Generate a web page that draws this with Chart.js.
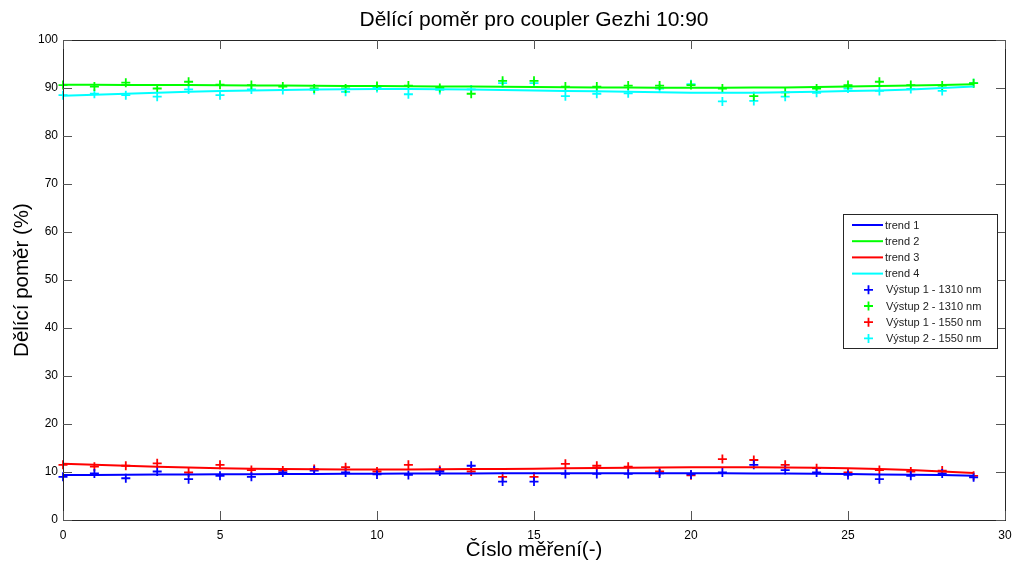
<!DOCTYPE html>
<html>
<head>
<meta charset="utf-8">
<script src="https://cdn.jsdelivr.net/npm/chart.js@4"></script>
<style>
html,body{margin:0;padding:0;background:#fff;}
#wrap{width:1013px;height:565px;position:relative;}
</style>
</head>
<body>
<div id="wrap"><canvas id="c" width="1013" height="565"></canvas></div>
<script>
const titleText = 'Dělící poměr pro coupler Gezhi 10:90';
const xTitle = 'Číslo měření(-)';
const yTitle = 'Dělící poměr (%)';
const measurements = [0,1,2,3,4,5,6,7,8,9,10,11,12,13,14,15,16,17,18,19,20,21,22,23,24,25,26,27,28,29];
const out1_1310 = [9.0,9.7,8.7,10.1,8.5,9.2,9.0,9.9,10.3,9.9,9.5,9.4,10.1,11.3,8.0,8.0,9.6,9.6,9.6,9.7,9.5,9.9,11.5,10.4,9.9,9.4,8.5,9.2,9.7,8.9];
const out2_1310 = [90.6,90.3,91.1,89.9,91.3,90.7,90.6,90.3,89.9,89.9,90.4,90.5,90.0,88.8,91.5,91.5,90.3,90.3,90.5,90.5,90.6,89.9,88.3,89.1,89.9,90.6,91.3,90.6,90.5,91.0];
const out1_1550 = [11.5,11.1,11.3,11.8,9.9,11.5,10.4,10.3,10.6,11.0,10.1,11.5,10.4,10.1,9.0,9.0,11.7,11.3,11.1,10.1,9.3,12.7,12.5,11.5,10.8,9.9,10.4,10.1,10.3,9.2];
const out2_1550 = [88.5,88.8,88.5,88.2,89.7,88.5,89.7,89.6,89.6,89.2,90.0,88.7,89.6,89.7,91.0,91.0,88.3,88.8,88.9,89.9,90.8,87.2,87.3,88.2,89.0,89.9,89.4,89.8,89.4,91.0];
const trend1 = [9.4,9.4,9.45,9.5,9.5,9.55,9.55,9.6,9.6,9.65,9.65,9.7,9.7,9.7,9.75,9.75,9.75,9.75,9.75,9.75,9.75,9.75,9.7,9.7,9.65,9.6,9.5,9.45,9.35,9.2];
const trend2 = [90.7,90.7,90.65,90.6,90.6,90.55,90.5,90.5,90.45,90.4,90.4,90.35,90.3,90.3,90.25,90.2,90.15,90.1,90.1,90.05,90.05,90.05,90.1,90.1,90.2,90.3,90.4,90.5,90.6,90.8];
const trend3 = [11.7,11.5,11.3,11.1,10.95,10.8,10.7,10.6,10.55,10.5,10.5,10.5,10.55,10.6,10.65,10.7,10.8,10.85,10.9,10.95,11.0,11.0,11.0,10.95,10.9,10.8,10.6,10.4,10.1,9.8];
const trend4 = [88.4,88.6,88.8,89.0,89.2,89.35,89.5,89.6,89.7,89.75,89.8,89.8,89.75,89.7,89.6,89.5,89.4,89.3,89.2,89.1,89.0,89.0,89.0,89.1,89.2,89.35,89.5,89.7,90.0,90.3];
const seriesLabels = ['trend 1','trend 2','trend 3','trend 4','Výstup 1 - 1310 nm','Výstup 2 - 1310 nm','Výstup 1 - 1550 nm','Výstup 2 - 1550 nm'];
const xTicks = [0,5,10,15,20,25,30];
const yTicks = [0,10,20,30,40,50,60,70,80,90,100];

const BLUE='#0000ff', GREEN='#00ff00', RED='#ff0000', CYAN='#00ffff';
const FONT = '"Liberation Sans", Arial, sans-serif';

function pts(arr){ return measurements.map((x,i)=>({x:x,y:arr[i]})); }
function lineDs(label, arr, color){
  return {type:'line', label, data:pts(arr), borderColor:color, backgroundColor:color,
    borderWidth:2, pointRadius:0, showLine:true, tension:0, kind:'line', clip:false};
}
function scatDs(label, arr, color){
  return {type:'scatter', label, data:pts(arr), borderColor:color, backgroundColor:color,
    pointStyle:'cross', pointRadius:4.5, pointBorderWidth:1.8, showLine:false, kind:'point', clip:false};
}

const boxPlugin = {
  id:'boxPlugin',
  afterDraw(chart){
    const ctx = chart.ctx, a = chart.chartArea;
    const xs = chart.scales.x, ys = chart.scales.y;
    ctx.save();
    ctx.strokeStyle = '#262626';
    ctx.lineWidth = 1;
    ctx.strokeRect(Math.round(a.left)+0.5, Math.round(a.top)+0.5, Math.round(a.right-a.left), Math.round(a.bottom-a.top));
    ctx.strokeStyle = '#555';
    ctx.beginPath();
    const tl = 9;
    yTicks.forEach(v=>{
      const y = Math.round(ys.getPixelForValue(v))+0.5;
      ctx.moveTo(a.left, y); ctx.lineTo(a.left+tl, y);
      ctx.moveTo(a.right, y); ctx.lineTo(a.right-tl, y);
    });
    xTicks.forEach(v=>{
      const x = Math.round(xs.getPixelForValue(v))+0.5;
      ctx.moveTo(x, a.bottom); ctx.lineTo(x, a.bottom-tl);
      ctx.moveTo(x, a.top); ctx.lineTo(x, a.top+tl);
    });
    ctx.stroke();

    // legend box
    const lx = 843, ly = 214, lw = 154, lh = 134;
    ctx.fillStyle = '#fff';
    ctx.fillRect(lx, ly, lw, lh);
    ctx.strokeStyle = '#262626';
    ctx.strokeRect(lx+0.5, ly+0.5, lw, lh);
    ctx.font = '11px ' + FONT;
    ctx.textBaseline = 'middle';
    ctx.textAlign = 'left';
    chart.data.datasets.forEach((ds,i)=>{
      const y = ly + 11 + i*16.2;
      ctx.strokeStyle = ds.borderColor;
      if (ds.kind === 'line'){
        ctx.lineWidth = 2;
        ctx.beginPath(); ctx.moveTo(852, y); ctx.lineTo(883, y); ctx.stroke();
      } else {
        ctx.lineWidth = 1.8;
        ctx.beginPath();
        ctx.moveTo(864, y); ctx.lineTo(873, y);
        ctx.moveTo(868.5, y-4.5); ctx.lineTo(868.5, y+4.5);
        ctx.stroke();
      }
      ctx.fillStyle = '#222';
      ctx.fillText(ds.label, ds.kind==='line'?885:886, y+0.5);
    });
    ctx.restore();
  }
};

const datasets = [
  lineDs(seriesLabels[0], trend1, BLUE),
  lineDs(seriesLabels[1], trend2, GREEN),
  lineDs(seriesLabels[2], trend3, RED),
  lineDs(seriesLabels[3], trend4, CYAN),
  scatDs(seriesLabels[4], out1_1310, BLUE),
  scatDs(seriesLabels[5], out2_1310, GREEN),
  scatDs(seriesLabels[6], out1_1550, RED),
  scatDs(seriesLabels[7], out2_1550, CYAN)
];

new Chart(document.getElementById('c'), {
  data:{datasets},
  options:{
    responsive:false,
    animation:false,
    devicePixelRatio:1,
    layout:{padding:{left:0,right:0,top:0,bottom:0}},
    plugins:{
      legend:{display:false},
      tooltip:{enabled:false},
      title:{display:true, fullSize:false, text:titleText, color:'#000',
        font:{family:FONT, size:21, weight:'normal', lineHeight:1.2}, padding:{top:8,bottom:6.8}}
    },
    scales:{
      x:{type:'linear', min:0, max:30,
        afterBuildTicks(s){ s.ticks = xTicks.map(v=>({value:v})); },
        afterFit(s){ s.height = 45; s.paddingLeft = 0; s.paddingRight = 8; },
        grid:{display:false, drawTicks:false},
        border:{display:false},
        ticks:{color:'#000', font:{family:FONT, size:12}, padding:8, maxRotation:0},
        title:{display:true, text:xTitle, color:'#000', font:{family:FONT, size:20.5, weight:'normal'}, padding:{top:0,bottom:2}}
      },
      y:{type:'linear', min:0, max:100,
        afterBuildTicks(s){ s.ticks = yTicks.map(v=>({value:v})); },
        afterFit(s){ s.width = 63; },
        grid:{display:false, drawTicks:false},
        border:{display:false},
        ticks:{color:'#000', font:{family:FONT, size:12}, padding:5},
        title:{display:true, text:yTitle, color:'#000', font:{family:FONT, size:20.5, weight:'normal'}, padding:{top:10,bottom:0}}
      }
    }
  },
  plugins:[boxPlugin]
});
</script>
</body>
</html>
